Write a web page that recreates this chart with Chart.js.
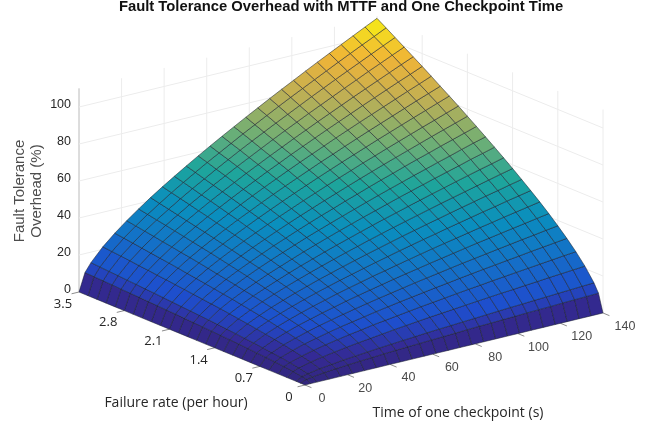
<!DOCTYPE html>
<html>
<head>
<meta charset="utf-8">
<style>html,body{margin:0;padding:0;background:#fff}canvas{display:block}</style>
<script src="https://cdn.jsdelivr.net/npm/chart.js@4"></script>
</head>
<body>
<canvas id="myChart" width="662" height="427"></canvas>
<script>
// tick labels
const timeTicks = [0, 20, 40, 60, 80, 100, 120, 140];
const rateTicks = [0, 0.7, 1.4, 2.1, 2.8, 3.5];
const overheadTicks = [0, 20, 40, 60, 80, 100];

// surface sample positions
const checkpointTimes = [0, 2.8, 5.6, 11.2, 16.8, 22.4, 28, 33.6, 39.2, 44.8, 50.4, 56, 61.6, 67.2, 72.8, 78.4, 84, 89.6, 95.2, 100.8, 106.4, 112, 117.6, 123.2, 128.8, 134.4, 140];
const failureRates = [0, 0.07, 0.14, 0.28, 0.42, 0.56, 0.7, 0.84, 0.98, 1.12, 1.26, 1.4, 1.54, 1.68, 1.82, 1.96, 2.1, 2.24, 2.38, 2.52, 2.66, 2.8, 2.94, 3.08, 3.22, 3.36, 3.5];

// overhead (%), one row per failure rate, estimated from the surface edges in the picture
const overhead = [
[0,0,0,0,0,0,0,0,0,0,0,0,0,0,0,0,0,0,0,0,0,0,0,0,0,0,0],
[0,1.3,1.8,2.6,3.2,3.7,4.1,4.5,4.9,5.3,5.6,5.9,6.2,6.5,6.8,7.1,7.4,7.6,7.9,8.1,8.4,8.6,8.8,9.1,9.3,9.5,9.7],
[0,1.8,2.6,3.7,4.5,5.3,5.9,6.5,7.1,7.6,8.1,8.6,9.1,9.5,9.9,10.3,10.7,11.1,11.5,11.9,12.2,12.6,12.9,13.3,13.6,14,14.3],
[0,2.6,3.7,5.3,6.5,7.6,8.6,9.5,10.3,11.1,11.9,12.6,13.3,14,14.6,15.2,15.8,16.4,17,17.6,18.1,18.7,19.2,19.8,20.3,20.8,21.3],
[0,3.2,4.5,6.5,8.1,9.5,10.7,11.9,12.9,14,14.9,15.8,16.7,17.6,18.4,19.2,20,20.8,21.5,22.3,23,23.7,24.4,25.1,25.8,26.5,27.1],
[0,3.7,5.3,7.6,9.5,11.1,12.6,14,15.2,16.4,17.6,18.7,19.8,20.8,21.8,22.8,23.7,24.7,25.6,26.5,27.3,28.2,29,29.9,30.7,31.5,32.3],
[0,4.1,5.9,8.6,10.7,12.6,14.3,15.8,17.3,18.7,20,21.3,22.5,23.7,24.9,26,27.1,28.2,29.3,30.3,31.3,32.3,33.3,34.3,35.2,36.2,37.1],
[0,4.5,6.5,9.5,11.9,14,15.8,17.6,19.2,20.8,22.3,23.7,25.1,26.5,27.8,29,30.3,31.5,32.7,33.9,35.1,36.2,37.3,38.4,39.5,40.6,41.7],
[0,4.9,7.1,10.3,12.9,15.2,17.3,19.2,21,22.8,24.4,26,27.6,29,30.5,31.9,33.3,34.7,36,37.3,38.6,39.9,41.1,42.4,43.6,44.8,46],
[0,5.3,7.6,11.1,14,16.4,18.7,20.8,22.8,24.7,26.5,28.2,29.9,31.5,33.1,34.7,36.2,37.7,39.1,40.6,42,43.4,44.8,46.1,47.5,48.8,50.1],
[0,5.6,8.1,11.9,14.9,17.6,20,22.3,24.4,26.5,28.4,30.3,32.1,33.9,35.6,37.3,39,40.6,42.2,43.7,45.3,46.8,48.3,49.8,51.2,52.7,54.1],
[0,5.9,8.6,12.6,15.8,18.7,21.3,23.7,26,28.2,30.3,32.3,34.3,36.2,38.1,39.9,41.7,43.4,45.1,46.8,48.5,50.1,51.7,53.3,54.9,56.5,58],
[0,6.2,9.1,13.3,16.7,19.8,22.5,25.1,27.6,29.9,32.1,34.3,36.4,38.4,40.4,42.4,44.3,46.1,48,49.8,51.6,53.3,55.1,56.8,58.5,60.1,61.8],
[0,6.5,9.5,14,17.6,20.8,23.7,26.5,29,31.5,33.9,36.2,38.4,40.6,42.7,44.8,46.8,48.8,50.8,52.7,54.6,56.5,58.3,60.1,62,63.7,65.5],
[0,6.8,9.9,14.6,18.4,21.8,24.9,27.8,30.5,33.1,35.6,38.1,40.4,42.7,44.9,47.1,49.3,51.4,53.5,55.5,57.6,59.5,61.5,63.4,65.4,67.3,69.1],
[0,7.1,10.3,15.2,19.2,22.8,26,29,31.9,34.7,37.3,39.9,42.4,44.8,47.1,49.5,51.7,54,56.2,58.3,60.5,62.6,64.6,66.7,68.7,70.7,72.7],
[0,7.4,10.7,15.8,20,23.7,27.1,30.3,33.3,36.2,39,41.7,44.3,46.8,49.3,51.7,54.1,56.5,58.8,61.1,63.3,65.5,67.7,69.9,72,74.1,76.2],
[0,7.6,11.1,16.4,20.8,24.7,28.2,31.5,34.7,37.7,40.6,43.4,46.1,48.8,51.4,54,56.5,58.9,61.4,63.7,66.1,68.4,70.7,73,75.2,77.5,79.7],
[0,7.9,11.5,17,21.5,25.6,29.3,32.7,36,39.1,42.2,45.1,48,50.8,53.5,56.2,58.8,61.4,63.9,66.4,68.9,71.3,73.7,76.1,78.4,80.8,83.1],
[0,8.1,11.9,17.6,22.3,26.5,30.3,33.9,37.3,40.6,43.7,46.8,49.8,52.7,55.5,58.3,61.1,63.7,66.4,69,71.6,74.1,76.6,79.1,81.6,84,86.4],
[0,8.4,12.2,18.1,23,27.3,31.3,35.1,38.6,42,45.3,48.5,51.6,54.6,57.6,60.5,63.3,66.1,68.9,71.6,74.3,76.9,79.5,82.1,84.7,87.2,89.8],
[0,8.6,12.6,18.7,23.7,28.2,32.3,36.2,39.9,43.4,46.8,50.1,53.3,56.5,59.5,62.6,65.5,68.4,71.3,74.1,76.9,79.7,82.4,85.1,87.8,90.4,93.1],
[0,8.8,12.9,19.2,24.4,29,33.3,37.3,41.1,44.8,48.3,51.7,55.1,58.3,61.5,64.6,67.7,70.7,73.7,76.6,79.5,82.4,85.2,88,90.8,93.6,96.3],
[0,9.1,13.3,19.8,25.1,29.9,34.3,38.4,42.4,46.1,49.8,53.3,56.8,60.1,63.4,66.7,69.9,73,76.1,79.1,82.1,85.1,88,91,93.8,96.7,99.5],
[0,9.3,13.6,20.3,25.8,30.7,35.2,39.5,43.6,47.5,51.2,54.9,58.5,62,65.4,68.7,72,75.2,78.4,81.6,84.7,87.8,90.8,93.8,96.8,99.8,102.7],
[0,9.5,14,20.8,26.5,31.5,36.2,40.6,44.8,48.8,52.7,56.5,60.1,63.7,67.3,70.7,74.1,77.5,80.8,84,87.2,90.4,93.6,96.7,99.8,102.8,105.9],
[0,9.7,14.3,21.3,27.1,32.3,37.1,41.7,46,50.1,54.1,58,61.8,65.5,69.1,72.7,76.2,79.7,83.1,86.4,89.8,93.1,96.3,99.5,102.7,105.9,109]
];

// colormap, slightly darker than plain parula because the reference mesh is denser
const colorStops = [0, 0.06, 0.125, 0.25, 0.375, 0.5, 0.625, 0.75, 0.875, 1];
const colorValues = [[50,38,125],[52,42,150],[30,78,205],[20,112,200],[10,142,190],[30,165,155],[115,175,115],[190,175,85],[240,180,55],[245,240,20]];

// orthographic view of the box, screen position of one data point
function project(time, rate, value) {
    return {
        x: 305 + 298 * time / 140 - 226 * rate / 3.5,
        y: 385 - 72 * time / 140 - 93 * rate / 3.5 - 1.85 * value
    };
}

function colorFor(value) {
    const t = Math.min(value / 109, 1);
    let i = 0;
    while (i < colorStops.length - 2 && t > colorStops[i + 1]) i++;
    const f = (t - colorStops[i]) / (colorStops[i + 1] - colorStops[i]);
    const c = colorValues[i].map((v, k) => Math.round(v + (colorValues[i + 1][k] - v) * f));
    return 'rgb(' + c.join(',') + ')';
}

function lineSet(points, color, width) {
    return {
        type: 'scatter', showLine: true, data: points, borderColor: color, borderWidth: width,
        pointRadius: 0, fill: false, tension: 0, clip: false
    };
}

const datasets = [];

// surface cells
for (let r = failureRates.length - 2; r >= 0; r--) {
    for (let c = checkpointTimes.length - 2; c >= 0; c--) {
        const corners = [[r, c], [r, c + 1], [r + 1, c + 1], [r + 1, c], [r, c]];
        const pts = corners.map(p => project(checkpointTimes[p[1]], failureRates[p[0]], overhead[p[0]][p[1]]));
        const mean = (overhead[r][c] + overhead[r][c + 1] + overhead[r + 1][c + 1] + overhead[r + 1][c]) / 4;
        datasets.push({
            type: 'scatter', showLine: true, data: pts, backgroundColor: colorFor(mean), fill: 'shape',
            borderColor: 'rgba(25,30,45,0.75)', borderWidth: 0.7, pointRadius: 0, tension: 0, clip: false
        });
    }
}

// back walls
const gridColor = '#ececec';
overheadTicks.forEach(v => {
    datasets.push(lineSet([project(0, 3.5, v), project(140, 3.5, v), project(140, 0, v)], gridColor, 1));
});
timeTicks.forEach(t => {
    datasets.push(lineSet([project(t, 3.5, 0), project(t, 3.5, 110)], gridColor, 1));
    datasets.push(lineSet([project(t, 0, 0), project(t, -0.1, 0)], '#8c8c8c', 1));
});
rateTicks.forEach(l => {
    datasets.push(lineSet([project(140, l, 0), project(140, l, 110)], gridColor, 1));
    datasets.push(lineSet([project(0, l, 0), project(-3.5, l, 0)], '#8c8c8c', 1));
});
datasets.push(lineSet([project(0, 3.5, 0), project(0, 3.5, 110)], '#bdbdbd', 1.5));

const textPlugin = {
    id: 'textPlugin',
    afterDraw(chart) {
        const ctx = chart.ctx;
        const xs = chart.scales.x, ys = chart.scales.y;
        const put = (txt, p, dx, dy, font, color, align) => {
            ctx.font = font;
            ctx.fillStyle = color;
            ctx.textAlign = align || 'center';
            ctx.textBaseline = 'middle';
            ctx.fillText(txt, xs.getPixelForValue(p.x + dx), ys.getPixelForValue(p.y + dy));
        };
        ctx.save();
        overheadTicks.forEach(v => put(String(v), project(0, 3.5, v), -8, -2, '12.5px "Liberation Sans"', '#262626', 'right'));
        timeTicks.forEach(t => put(String(t), project(t, 0, 0), 17 + t * 5 / 140, 13.5, '12.5px "Liberation Sans"', '#4a4a4a'));
        rateTicks.forEach(l => put(String(l), project(0, l, 0), -16, 12, '13px "Open Sans"', '#262626'));
        put('Failure rate (per hour)', {x: 176, y: 403}, 0, 0, '14px "Open Sans"', '#262626');
        put('Time of one checkpoint (s)', {x: 458, y: 413}, 0, 0, '14px "Open Sans"', '#262626');
        put('Fault Tolerance Overhead with MTTF and One Checkpoint Time', {x: 341, y: 7}, 0, 0, 'bold 14.8px "Liberation Sans"', '#111');
        ctx.translate(20, 191);
        ctx.rotate(-Math.PI / 2);
        ctx.font = '15px "Liberation Sans"';
        ctx.fillStyle = '#4d4d4d';
        ctx.textAlign = 'center';
        ctx.textBaseline = 'middle';
        ctx.fillText('Fault Tolerance', 0, 0);
        ctx.fillText('Overhead (%)', 0, 17);
        ctx.restore();
    }
};

new Chart(document.getElementById('myChart').getContext('2d'), {
    type: 'scatter',
    data: { datasets: datasets },
    plugins: [textPlugin],
    options: {
        responsive: false,
        animation: false,
        events: [],
        plugins: { legend: { display: false }, title: { display: false }, tooltip: { enabled: false } },
        scales: {
            x: { type: 'linear', min: 0, max: 662, display: false },
            y: { type: 'linear', min: 0, max: 427, reverse: true, display: false }
        }
    }
});
</script>
</body>
</html>
